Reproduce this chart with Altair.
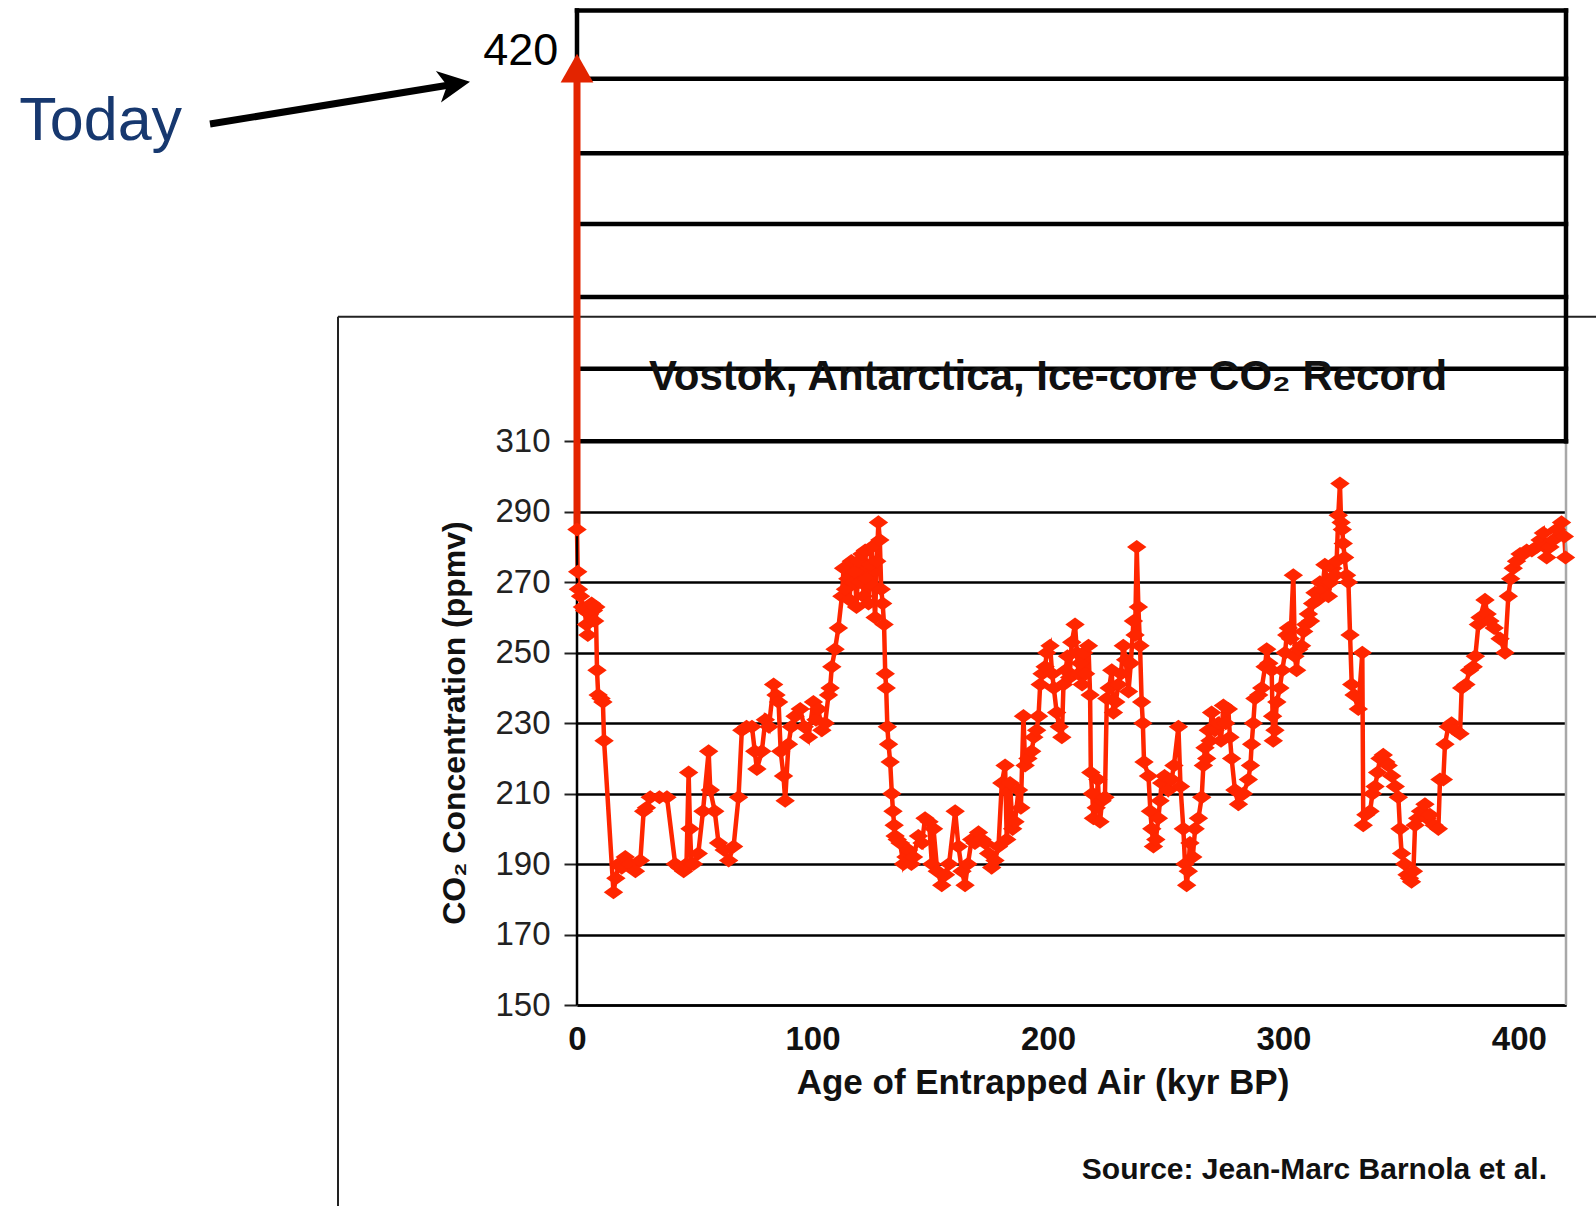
import altair as alt
import pandas as pd

# Vostok ice-core CO2 record: age of entrapped air (kyr BP) and CO2 (ppmv)
age_kyr = [
    0.0, 0.3, 0.6, 1.5, 2.3, 3.2, 4.0, 4.6, 5.4, 6.2, 7.0, 7.5, 8.0, 8.5, 9.0, 10.2, 11.0, 11.5, 15.5,
    16.5, 17.7, 19.0, 20.5, 22.5, 24.8, 26.9, 28.3, 29.5, 31.1, 35.0, 38.2,
    41.7, 43.5, 45.3, 46.5, 47.4, 48.0, 48.6, 49.5, 51.5, 53.5, 55.9, 56.6, 58.5, 60.1, 62.5, 64.4, 66.5, 68.6,
    70.0, 72.0, 74.3, 75.5, 76.4, 78.5, 80.0, 81.5, 83.5, 84.5, 85.6, 86.5, 87.7, 88.4,
    89.8, 91.0, 92.6, 94.8, 96.5, 98.3, 100.4, 101.5, 102.5, 104.0, 105.4, 106.8, 107.5, 108.2, 109.6, 111.0, 112.5,
    113.2, 114.0, 115.0, 115.8, 116.5, 117.3, 118.0, 118.7, 119.5, 120.2, 121.0, 121.7, 122.4, 123.1, 123.8,
    124.5, 125.2, 125.9, 126.6, 127.3, 128.0, 128.6, 129.2, 129.8, 130.4,
    130.9, 131.3, 131.8, 132.3, 133.0, 133.7, 134.2, 134.7, 135.1, 136.0, 137.2, 138.6, 139.7, 140.8, 142.0, 142.9,
    145.0, 146.5, 147.8, 149.5, 150.7, 151.4, 153.0, 154.9, 156.5, 158.0, 160.6, 162.0, 163.5, 164.8, 166.0,
    167.6, 169.0, 170.5, 172.0, 173.3, 174.8, 176.1, 177.5, 179.0, 180.4, 181.8, 182.5,
    183.9, 185.0, 186.0, 187.5, 188.5, 189.6, 190.3, 191.5, 193.1, 194.0, 195.2, 196.0, 196.7, 197.5, 198.8,
    199.5, 200.9, 201.8, 202.5, 203.7, 204.8, 205.9, 206.6, 207.5, 208.3, 209.2, 210.1, 211.5, 212.3, 213.0,
    213.6, 214.5, 215.2, 216.0, 217.2, 217.9, 218.2, 218.8, 219.3, 220.5, 221.2, 222.1, 223.0, 224.2,
    225.0, 226.0, 227.1, 227.8, 228.8, 229.9, 231.0, 232.0, 233.0, 234.2, 235.2, 236.3, 237.0, 237.7, 238.4,
    239.1, 239.8, 240.3, 240.8, 242.7, 243.5, 244.1, 244.8, 245.8, 246.9, 247.6, 248.3, 249.5, 251.1, 252.5,
    253.5, 255.4, 256.3, 257.5, 258.2, 258.9, 259.6, 260.3, 261.5, 262.5, 263.9, 265.3, 266.0, 266.7, 267.4,
    268.1, 268.8, 269.5, 271.0, 272.4, 273.5, 274.5, 275.5, 276.6, 277.3, 278.0, 279.4, 280.9,
    283.0, 285.1, 286.0, 286.5, 287.2, 287.9, 289.5, 290.8, 292.2, 292.9, 293.8, 295.0, 295.4, 295.7, 296.4,
    297.2, 298.5, 299.5, 300.7, 301.4, 302.1, 303.0, 304.2, 304.9, 305.6, 306.5, 307.7, 308.6, 309.5, 310.6,
    311.5, 312.4, 313.4, 314.5, 315.5, 316.5, 317.6, 318.4, 319.1, 320.0, 321.0, 321.9, 322.6, 323.3, 324.0,
    324.5, 325.0, 325.4, 326.0, 326.8, 327.6, 328.3, 329.0, 330.0, 331.8, 333.5, 333.9,
    335.0, 336.8, 337.8, 338.9, 340.0, 341.0, 342.4, 343.5, 344.5, 346.0, 347.5, 348.8, 349.5, 350.2, 351.5,
    352.5, 353.5, 354.4, 355.2, 355.9, 357.0, 358.2, 360.1, 361.0, 362.2, 364.0, 365.8, 366.5, 367.9, 368.6,
    370.0, 371.4, 373.0, 375.0, 375.7, 377.5, 379.0, 380.6, 381.5, 382.8, 383.5, 385.6, 386.5, 387.7, 389.5,
    392.0, 394.1, 395.5, 396.5, 397.6, 399.0, 400.5, 402.0, 403.3, 405.5, 407.5, 409.0, 410.4, 411.1, 411.8,
    413.2, 414.6, 416.0, 418.1, 419.3, 419.8,
]
co2_ppmv = [
    285, 273, 268, 266, 263, 262, 258, 255, 261, 264, 262, 259, 263, 245, 238, 237, 236, 225, 182,
    186, 190, 189, 192, 190, 188, 191, 205, 206, 209, 209, 209,
    190, 189, 188, 190, 216, 200, 190, 190, 193, 205, 222, 211, 205, 196, 194, 191, 195, 209,
    228, 229, 229, 222, 217, 222, 231, 229, 241, 238, 236, 222, 215, 208,
    224, 229, 232, 234, 229, 226, 236, 231, 234, 228, 230, 238, 240, 246, 251, 257, 266,
    274, 268, 271, 265, 276, 270, 273, 263, 276, 270, 278, 266, 279, 271, 264,
    275, 280, 269, 260, 276, 287, 282, 268, 264, 258,
    244, 240, 229, 224, 219, 210, 205, 201, 198, 197, 196, 190, 192, 194, 190, 192,
    198, 196, 203, 202, 190, 200, 188, 184, 187, 190, 205, 195, 188, 184, 190,
    197, 196, 199, 197, 196, 193, 189, 191, 195, 213, 218, 197,
    213, 200, 202, 211, 206, 232, 218, 220, 222, 226, 228, 232, 241, 244, 246,
    250, 252, 244, 240, 233, 229, 226, 241, 245, 249, 243, 253, 258, 250, 244,
    247, 241, 250, 244, 252, 238, 216, 210, 203, 206, 214, 202, 208, 209,
    237, 240, 245, 233, 236, 241, 244, 252, 248, 239, 247, 259, 255, 280, 263,
    252, 236, 230, 219, 215, 205, 200, 195, 197, 203, 208, 213, 215, 211, 214,
    218, 229, 212, 200, 190, 184, 188, 196, 192, 200, 203, 209, 218, 223, 220,
    228, 225, 233, 228, 230, 225, 235, 230, 234, 226, 220, 211, 207,
    210, 214, 218, 224, 230, 237, 238, 240, 246, 251, 247, 245, 232, 225, 228,
    236, 240, 245, 250, 255, 257, 254, 272, 249, 245, 251, 252, 256, 258, 261,
    259, 264, 267, 265, 270, 268, 275, 270, 266, 270, 274, 272, 276, 289, 298,
    287, 285, 281, 277, 272, 270, 255, 241, 238, 234, 250, 201,
    204, 205, 210, 212, 216, 220, 221, 219, 218, 215, 212, 209, 200, 193, 190,
    187, 186, 185, 188, 201, 203, 205, 207, 203, 204, 201, 200, 214, 214, 224,
    229, 230, 228, 227, 240, 241, 245, 246, 249, 258, 260, 265, 261, 259, 257,
    254, 250, 266, 271, 274, 276, 278, 278, 279, 279, 280, 282, 284, 280, 277,
    280, 282, 285, 287, 283, 277,
]

y_ticks = [150, 170, 190, 210, 230, 250, 270, 290, 310]
x_ticks = [0, 100, 200, 300, 400]
# ruled box drawn above the ice-core panel, reaching up to the present-day level
box_levels = [310, 330.6, 351.0, 371.7, 391.8, 412.9, 432.3]
box_sides = [0, 420]
today_span = [285, 420]  # from the youngest ice-core value up to today's concentration

RED = "#ff2600"
ARROW_RED = "#e32400"
FONT = "Liberation Sans"

W, H = 989, 1004
PAD_L, PAD_T = 577, 1

xs = alt.Scale(domain=[0, 420], nice=False, zero=False)
ys = alt.Scale(domain=[150, 435], nice=False, zero=False)

df = pd.DataFrame({"age": age_kyr, "co2": co2_ppmv, "seq": list(range(len(age_kyr)))})
one = pd.DataFrame({"k": [0]})

x_axis = alt.Axis(
    values=x_ticks, title=None, grid=False, ticks=False, domain=True,
    domainColor="#000", domainWidth=2.5, labelFont=FONT, labelFontWeight="bold",
    labelFontSize=33, labelColor="#111", labelPadding=18, labelFlush=False,
)
y_axis = alt.Axis(
    values=y_ticks, title=None, grid=True, gridColor="#000", gridWidth=2.5,
    domain=False, ticks=True, tickSize=13, tickColor="#222", tickWidth=2,
    labelFont=FONT, labelFontSize=33, labelColor="#222", labelPadding=14,
)

# data line carries the shared axes
line = alt.Chart(df).mark_line(color=RED, strokeWidth=4.5, clip=False).encode(
    x=alt.X("age:Q", scale=xs, axis=x_axis),
    y=alt.Y("co2:Q", scale=ys, axis=y_axis),
    order="seq:Q",
)
points = alt.Chart(df).mark_point(
    shape="M-1,0L0,-0.72L1,0L0,0.72Z", filled=True, fill=RED, stroke=RED,
    strokeWidth=0, size=380, opacity=1,
).encode(x="age:Q", y="co2:Q")

# outer frame of the original figure
frame_top = alt.Chart(one).mark_rule(color="#222", strokeWidth=2).encode(
    x=alt.value(-239), x2=alt.value(1100), y=alt.value(315.7)
)
frame_left = alt.Chart(one).mark_rule(color="#222", strokeWidth=2).encode(
    x=alt.value(-239), y=alt.value(315.7), y2=alt.value(1300)
)

# plot-area edges
left_edge = alt.Chart(one).mark_rule(color="#000", strokeWidth=2.5).encode(
    x=alt.datum(0), y=alt.datum(150), y2=alt.datum(310)
)
right_edge = alt.Chart(one).mark_rule(color="#a8a8a8", strokeWidth=2.5).encode(
    x=alt.datum(420), y=alt.datum(150), y2=alt.datum(310)
)

# ruled box
box_h = alt.Chart(pd.DataFrame({"co2": box_levels})).mark_rule(
    color="#000", strokeWidth=4.5, strokeCap="square"
).encode(x=alt.datum(0), x2=alt.datum(420), y="co2:Q")
box_v = alt.Chart(pd.DataFrame({"age": box_sides})).mark_rule(
    color="#000", strokeWidth=4.5, strokeCap="square"
).encode(x="age:Q", y=alt.datum(box_levels[0]), y2=alt.datum(box_levels[-1]))

# red arrow rising from the last ice-core value to today's level
span_df = pd.DataFrame({"co2": [today_span[0]], "co2_today": [today_span[1]]})
today_rule = alt.Chart(span_df).mark_rule(color=ARROW_RED, strokeWidth=7, y2Offset=14).encode(
    x=alt.datum(0), y="co2:Q", y2="co2_today:Q"
)
head_df = pd.DataFrame({"co2": [today_span[1]]})
today_head = alt.Chart(head_df).mark_point(
    shape="M0,0L1,1.75L-1,1.75Z", filled=True, fill=ARROW_RED, strokeWidth=0,
    size=1069, opacity=1,
).encode(x=alt.datum(0), y="co2:Q")

label_420 = alt.Chart(one).mark_text(
    text="420", font=FONT, fontSize=45, color="#000", align="right", baseline="alphabetic"
).encode(x=alt.value(-18.7), y=alt.value(64))

today_text = alt.Chart(one).mark_text(
    text="Today", font=FONT, fontSize=61, color="#17386f", align="left", baseline="alphabetic"
).encode(x=alt.value(-557.7), y=alt.value(139))

today_arrow = alt.Chart(one).mark_rule(color="#000", strokeWidth=7).encode(
    x=alt.value(-367), y=alt.value(123), x2=alt.value(-120), y2=alt.value(82.8)
)
today_arrow_head = alt.Chart(one).mark_point(
    shape="M0,0L1,2L0,1.45L-1,2Z", filled=True, fill="#000", strokeWidth=0,
    size=1024, opacity=1, angle=80.8,
).encode(x=alt.value(-107), y=alt.value(80.7))

title = alt.Chart(one).mark_text(
    text="Vostok, Antarctica, Ice-core CO\u2082 Record", font=FONT, fontSize=42,
    fontWeight="bold", color="#111", align="center", baseline="alphabetic",
).encode(x=alt.value(471), y=alt.value(388.5))

y_title = alt.Chart(one).mark_text(
    text="CO\u2082 Concentration (ppmv)", font=FONT, fontSize=32, fontWeight="bold",
    color="#111", align="center", baseline="middle", angle=270,
).encode(x=alt.value(-122), y=alt.value(722))

x_title = alt.Chart(one).mark_text(
    text="Age of Entrapped Air (kyr BP)", font=FONT, fontSize=35, fontWeight="bold",
    color="#111", align="center", baseline="alphabetic",
).encode(x=alt.value(466), y=alt.value(1093))

source = alt.Chart(one).mark_text(
    text="Source: Jean-Marc Barnola et al.", font=FONT, fontSize=30, fontWeight="bold",
    color="#111", align="right", baseline="alphabetic",
).encode(x=alt.value(970), y=alt.value(1177.6))

chart = alt.layer(
    line, frame_top, frame_left, left_edge, right_edge, box_h, box_v,
    today_rule, today_head, points, label_420, today_text, today_arrow,
    today_arrow_head, title, y_title, x_title, source,
).properties(
    width=W, height=H,
    autosize=alt.AutoSizeParams(type="none"),
    padding={"left": PAD_L, "top": PAD_T, "right": 1596 - PAD_L - W, "bottom": 1206 - PAD_T - H},
    background="white",
).configure_view(stroke=None)

chart.save("out.html", embed_options={"renderer": "svg", "actions": False})
